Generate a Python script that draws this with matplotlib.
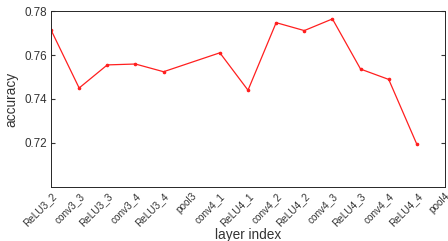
import numpy as np
import matplotlib.pyplot as plt

plt.rcParams['font.family'] = ['Liberation Sans', 'DejaVu Sans']

# layer names along the x axis
layers = ['ReLU3_2', 'conv3_3', 'ReLU3_3', 'conv3_4', 'ReLU3_4', 'pool3',
          'conv4_1', 'ReLU4_1', 'conv4_2', 'ReLU4_2', 'conv4_3', 'ReLU4_3',
          'conv4_4', 'ReLU4_4', 'pool4']
# measured layers (pool3 / pool4 have no value)
x_idx = [1, 2, 3, 4, 5, 7, 8, 9, 10, 11, 12, 13, 14]
acc = [0.7714, 0.7450, 0.7555, 0.7559, 0.7524, 0.7610, 0.7440,
       0.7747, 0.7711, 0.7764, 0.7536, 0.7489, 0.7194]

fig = plt.figure(figsize=(4.48, 2.41), dpi=100)
ax = fig.add_axes([51/448, 1-187/241, 394/448, 176/241])

ax.plot(x_idx, acc, color='#ff1f1f', lw=0.9, marker='o', ms=1.6)

ax.set_xlim(1, 15)
ax.set_ylim(0.70, 0.78)
ax.set_yticks([0.72, 0.74, 0.76, 0.78])
ax.set_yticklabels(['0.72', '0.74', '0.76', '0.78'])

ax.set_xticks(np.arange(1, 16))
ax.set_xticklabels(layers, rotation=45, ha='right', rotation_mode='anchor')
ax.set_xticks(np.arange(1, 16, 2), minor=True)

ax.tick_params(axis='x', which='major', length=0, labelsize=7.2,
               colors='#333333', pad=3)
ax.tick_params(axis='x', which='minor', length=3, direction='in',
               top=True, color='#262626')
ax.tick_params(axis='y', which='major', length=3, direction='in',
               right=True, labelsize=8.4, colors='#333333', pad=3)

for s in ax.spines.values():
    s.set_color('#262626')
    s.set_linewidth(0.7)

ax.set_ylabel('accuracy', fontsize=9.8, color='#333333', labelpad=4)
ax.set_xlabel('layer index', fontsize=9.8, color='#333333', labelpad=0)

fig.savefig('out.png', dpi=100)
